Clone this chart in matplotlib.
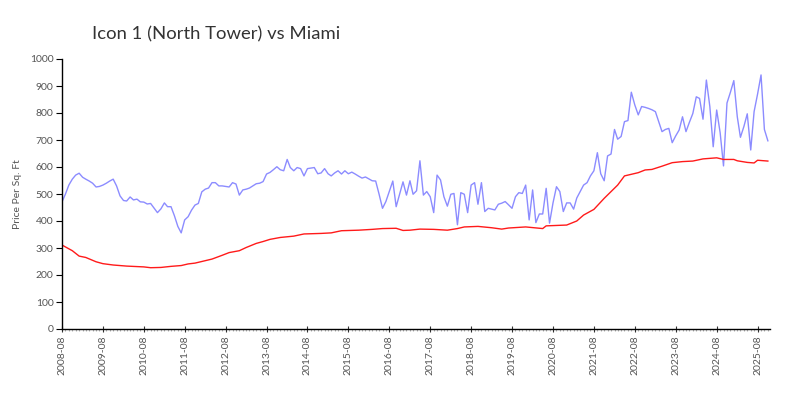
import numpy as np
import pandas as pd
import matplotlib
matplotlib.use('Agg')
import matplotlib.pyplot as plt
import matplotlib.dates as mdates

# Icon 1 (North Tower) 월별 가격 (2008-08 부터)
icon_start = '2008-08-01'
icon_values = [
    471, 500, 533, 555, 570, 577, 562, 555, 548, 540, 526, 528,
    533, 540, 548, 555, 530, 493, 476, 474, 489, 478, 481, 471,
    470, 463, 465, 448, 431, 445, 467, 453, 453, 420, 380, 356,
    404, 416, 440, 459, 465, 508, 518, 522, 542, 542, 530, 530,
    528, 526, 542, 537, 496, 515, 518, 522, 530, 538, 540, 546,
    574, 580, 590, 601, 590, 586, 628, 598, 586, 598, 594, 567,
    594, 596, 598, 575, 578, 594, 575, 567, 578, 586, 574, 586,
    575, 581, 574, 566, 559, 563, 556, 549, 548, 500, 447, 472,
    510, 548, 453, 500, 545, 496, 549, 499, 512, 623, 496, 509,
    490, 431, 570, 552, 490, 455, 499, 502, 386, 505, 499, 431,
    533, 542, 462, 542, 435, 447, 444, 441, 462, 466, 472, 460,
    447, 490, 505, 502, 533, 404, 515, 394, 426, 426, 521, 392,
    467, 527, 509, 435, 467, 467, 444, 485, 509, 533, 542, 567,
    586, 653, 575, 549, 641, 648, 739, 703, 713, 768, 772, 877,
    830, 793, 824, 821, 817, 812, 805, 770, 731, 739, 743, 690,
    715, 737, 786, 731, 765, 798, 860, 854, 777, 922, 824, 675,
    811, 727, 604, 837, 876, 920, 786, 710, 750, 797, 663, 805,
    870, 941, 739, 697,
]

# Miami 가격
miami_dates = [
    '2008-08', '2008-11', '2009-01', '2009-03', '2009-06', '2009-08', '2009-11',
    '2010-03', '2010-08', '2010-10', '2011-01', '2011-04', '2011-07', '2011-09',
    '2011-11', '2012-01', '2012-04', '2012-07', '2012-09', '2012-12', '2013-02',
    '2013-05', '2013-07', '2013-09', '2013-12', '2014-04', '2014-07', '2014-12',
    '2015-03', '2015-06', '2015-11', '2016-03', '2016-06', '2016-10', '2016-12',
    '2017-02', '2017-05', '2017-09', '2018-01', '2018-04', '2018-06', '2018-10',
    '2019-02', '2019-05', '2019-07', '2019-12', '2020-05', '2020-06', '2020-12',
    '2021-03', '2021-05', '2021-08', '2021-11', '2022-03', '2022-05', '2022-09',
    '2022-11', '2023-01', '2023-04', '2023-07', '2023-10', '2024-01', '2024-04',
    '2024-08', '2024-10', '2025-01', '2025-02', '2025-05', '2025-07', '2025-08',
    '2025-11',
]
miami_values = [
    311, 290, 270, 265, 249, 242, 237,
    233, 230, 227, 228, 232, 235, 241,
    244, 250, 259, 273, 283, 290, 302,
    317, 324, 332, 339, 344, 352, 354,
    356, 364, 366, 369, 372, 373, 365,
    366, 370, 369, 366, 372, 378, 380,
    375, 370, 374, 378, 372, 382, 385,
    400, 422, 443, 484, 533, 567, 579,
    589, 591, 603, 616, 620, 622, 630,
    634, 628, 628, 623, 617, 615, 625,
    622,
]

title = 'Icon 1 (North Tower) vs Miami'
ylabel = 'Price Per Sq. Ft'

icon_x = pd.date_range(icon_start, periods=len(icon_values), freq='MS')
miami_x = pd.to_datetime(miami_dates)

plt.rcParams['font.family'] = ['Lato', 'DejaVu Sans']
txt = '#555555'

fig = plt.figure(figsize=(8, 4), dpi=100)
ax = fig.add_axes([0.0775, 0.1775, 0.885, 0.675])

ax.plot(icon_x, icon_values, color='#8c8cff', lw=1)
ax.plot(miami_x, miami_values, color='#ff1a1a', lw=1)

ax.set_ylim(0, 1000)
ax.set_yticks(np.arange(0, 1001, 100))
ax.set_xlim(pd.Timestamp('2008-08-01'), pd.Timestamp('2025-11-20'))

ticks = pd.date_range('2008-08-01', '2025-08-01', freq='12MS')
ax.set_xticks(ticks)
ax.set_xticklabels([t.strftime('%Y-%m') for t in ticks], rotation=90)
ax.xaxis.set_minor_locator(mdates.MonthLocator())

for s in ['top', 'right']:
    ax.spines[s].set_visible(False)
for s in ['left', 'bottom']:
    ax.spines[s].set_color('black')
    ax.spines[s].set_linewidth(1)

ax.tick_params(axis='y', direction='out', length=4, labelsize=7.5, labelcolor=txt,
               pad=2, color='black')
ax.tick_params(axis='x', which='major', direction='inout', length=5, labelsize=7.5,
               labelcolor=txt, pad=2, color='#333333')
ax.tick_params(axis='x', which='minor', direction='out', length=1.5,
               color='#b0b0b0', width=0.8)

ax.set_ylabel(ylabel, fontsize=7.5, color=txt, labelpad=6)
fig.text(0.115, 0.914, title, fontsize=13.3, color='#333333',
         ha='left', va='center')

fig.savefig('out.png', dpi=100)
